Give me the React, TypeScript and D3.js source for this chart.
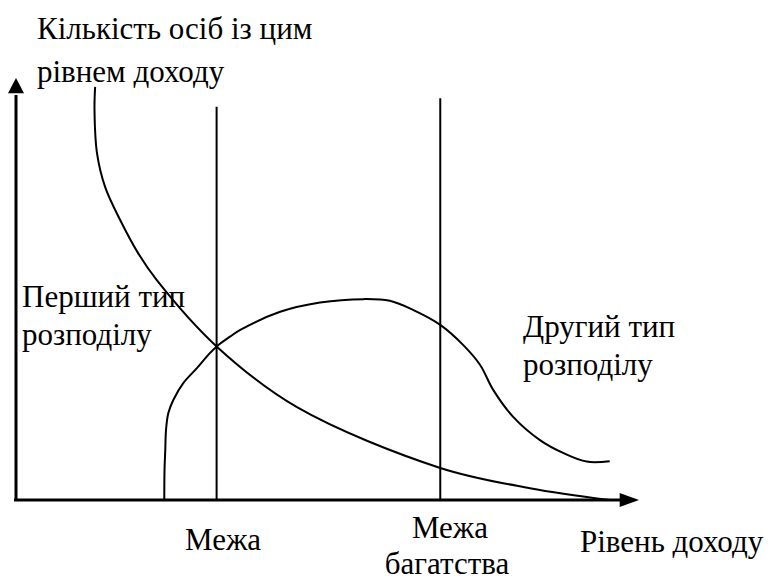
import React from 'react';
import * as d3 from 'd3';

// Income axis (x) and head-count axis (y), both in arbitrary units 0..10
const firstIncome = [1.27, 1.26, 1.3, 1.43, 1.67, 1.96, 2.26, 3.22, 4.51, 6.81, 8.25, 9.53];
const firstCount = [9.79, 9.24, 8.22, 7.42, 6.64, 5.85, 5.21, 3.64, 2.2, 0.76, 0.28, 0.0];

const secondIncome = [2.38, 2.384, 2.396, 2.408, 2.445, 2.525, 2.685, 2.9, 3.087, 3.222, 3.435, 3.6, 4.24, 4.88, 5.58, 6.0, 6.38, 6.81, 7.18, 7.45, 7.66, 7.98, 8.41, 8.79, 9.16, 9.53];
const secondCount = [0.0, 0.71, 1.19, 1.66, 2.06, 2.37, 2.77, 3.12, 3.44, 3.64, 3.87, 4.03, 4.46, 4.68, 4.76, 4.72, 4.5, 4.15, 3.67, 3.2, 2.61, 1.97, 1.42, 1.11, 0.91, 0.92];

// vertical boundary lines: income level and top of line
const boundaryIncome = [3.22, 6.81];
const boundaryTop = [9.32, 9.52];

// label text, anchor point (x, y in pixels) and text-anchor
const labels: [string, number, number, string][] = [
    ['Кількість осіб із цим', 37, 39, 'start'],
    ['рівнем доходу', 37, 82, 'start'],
    ['Перший тип', 22, 307, 'start'],
    ['розподілу', 22, 345, 'start'],
    ['Другий тип', 523, 337, 'start'],
    ['розподілу', 523, 375, 'start'],
    ['Межа', 185, 550, 'start'],
    ['Межа', 450, 538, 'middle'],
    ['багатства', 447, 574, 'middle'],
    ['Рівень доходу', 580, 552, 'start'],
];

const W = 773;
const H = 582;
const SERIF = 'Tinos, Liberation Serif, Times New Roman, serif';

const x = d3.scaleLinear().domain([0, 10]).range([16, 639]);
const y = d3.scaleLinear().domain([0, 10]).range([500, 78]);

const line = d3.line<[number, number]>()
    .x(d => x(d[0]))
    .y(d => y(d[1]))
    .curve(d3.curveCatmullRom.alpha(0.5));

const first = firstIncome.map((v, i) => [v, firstCount[i]] as [number, number]);
const second = secondIncome.map((v, i) => [v, secondCount[i]] as [number, number]);

const App = () => (
    <svg width={W} height={H} style={{ position: 'absolute', left: 0, top: 0, background: '#fff' }}>
        {/* y axis */}
        <line x1={x(0)} y1={y(0)} x2={x(0)} y2={y(9.6)} stroke="#000" strokeWidth={3} />
        <path d={`M${x(0)},${y(10)} L${x(0) - 8},${y(9.64)} L${x(0) + 8},${y(9.64)} Z`} fill="#000" />
        {/* x axis */}
        <line x1={x(0) - 2} y1={y(0)} x2={x(9.7)} y2={y(0)} stroke="#000" strokeWidth={3} />
        <path d={`M${x(10)},${y(0)} L${x(9.69)},${y(0) - 7} L${x(9.69)},${y(0) + 7} Z`} fill="#000" />

        {boundaryIncome.map((b, i) => (
            <line key={i} x1={x(b)} y1={y(0)} x2={x(b)} y2={y(boundaryTop[i])} stroke="#000" strokeWidth={2} />
        ))}

        {[first, second].map((data, i) => (
            <path key={i} d={line(data) || ''} fill="none" stroke="#000" strokeWidth={2} />
        ))}

        <g fontFamily={SERIF} fontSize={31} fill="#000">
            {labels.map((d, i) => (
                <text key={i} x={d[1]} y={d[2]} textAnchor={d[3]} fontFamily={SERIF}>{d[0]}</text>
            ))}
        </g>
    </svg>
);

export default App;
